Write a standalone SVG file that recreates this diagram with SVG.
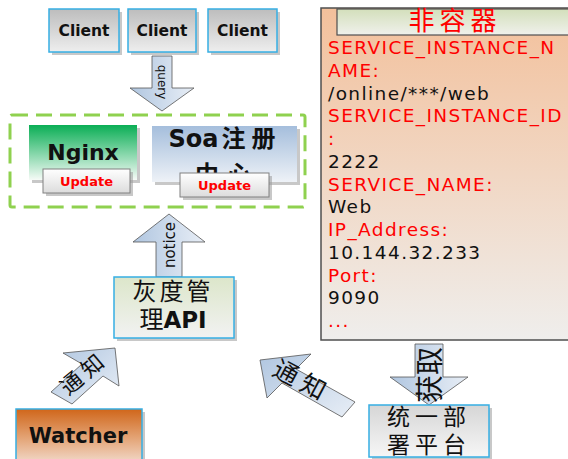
<svg xmlns="http://www.w3.org/2000/svg" width="568" height="459" viewBox="0 0 568 459">
<defs>
<linearGradient id="gClient" x1="0" y1="0" x2="0" y2="1"><stop offset="0" stop-color="#bdbdbd"/><stop offset="1" stop-color="#eeeeee"/></linearGradient>
<linearGradient id="gNginx" x1="0" y1="0" x2="0" y2="1"><stop offset="0" stop-color="#0aae55"/><stop offset="1" stop-color="#f6fbf7"/></linearGradient>
<linearGradient id="gSoa" x1="0" y1="0" x2="0" y2="1"><stop offset="0" stop-color="#a5bedc"/><stop offset="1" stop-color="#eef2f7"/></linearGradient>
<linearGradient id="gUpd" x1="0" y1="0" x2="0" y2="1"><stop offset="0" stop-color="#ffffff"/><stop offset="1" stop-color="#dcdcdc"/></linearGradient>
<linearGradient id="gGray" x1="0" y1="0" x2="0" y2="1"><stop offset="0" stop-color="#dce6ca"/><stop offset="1" stop-color="#f2f2f2"/></linearGradient>
<linearGradient id="gWatch" x1="0" y1="0" x2="0" y2="1"><stop offset="0" stop-color="#d0661a"/><stop offset="0.5" stop-color="#e4a679"/><stop offset="1" stop-color="#f5e6de"/></linearGradient>
<linearGradient id="gDeploy" x1="0" y1="0" x2="0" y2="1"><stop offset="0" stop-color="#d6d6d6"/><stop offset="1" stop-color="#f6f6f6"/></linearGradient>
<linearGradient id="gPanel" x1="0" y1="0" x2="0" y2="1"><stop offset="0" stop-color="#f3c09b"/><stop offset="1" stop-color="#efeeec"/></linearGradient>
<linearGradient id="gTab" x1="0" y1="0" x2="0" y2="1"><stop offset="0" stop-color="#d3dfbb"/><stop offset="1" stop-color="#f0f1ec"/></linearGradient>
<linearGradient id="gArrow" x1="0" y1="0" x2="1" y2="0"><stop offset="0" stop-color="#b0c6e0"/><stop offset="1" stop-color="#e8eef6"/></linearGradient>
<linearGradient id="gArrowD" x1="0" y1="0" x2="1" y2="1"><stop offset="0" stop-color="#b0c6e0"/><stop offset="1" stop-color="#e8eef6"/></linearGradient>
</defs>
<style>
.box{stroke:#36afe4;stroke-width:1.5}
.shadow{fill:#9a9a9a;opacity:0.55}
.lbl{font-family:'DejaVu Sans','Noto Sans CJK SC',sans-serif;font-weight:bold;fill:#111;text-anchor:middle}
.cjk{font-family:'Noto Sans CJK SC','DejaVu Sans',sans-serif;fill:#111}
.upd{fill:url(#gUpd);stroke:#808080;stroke-width:1}
.updt{font-family:'DejaVu Sans',sans-serif;font-weight:bold;font-size:13px;fill:#ff0000;text-anchor:middle}
.arrow{stroke:#555;stroke-width:0.8}
.pt{font-family:'DejaVu Sans','Noto Sans CJK SC',sans-serif;font-size:18.5px;letter-spacing:1.4px}
.r{fill:#ff0000}
.k{fill:#111}
</style>

<g id="connectors">
<path class="arrow" fill="url(#gArrow)" d="M152,56 H172 V88 H194 L162,111 L130,88 H152 Z"/>
<text font-family="'DejaVu Sans',sans-serif" font-size="12" fill="#111" text-anchor="middle" transform="translate(157.5,82) rotate(90)">query</text>
<path class="arrow" fill="url(#gArrow)" d="M156,277 V242 H133 L169,214 L205,242 H182 V277 Z"/>
<text font-family="'DejaVu Sans',sans-serif" font-size="15" fill="#111" text-anchor="middle" transform="translate(175,245) rotate(-90)">notice</text>
<path class="arrow" fill="url(#gArrow)" d="M415,344 H443 V377 H468 L429,405 L390,377 H415 Z"/>
<text class="cjk" font-size="28" text-anchor="middle" transform="translate(440,375) rotate(-90)">获取</text>
<path class="arrow" fill="url(#gArrowD)" d="M51,392 L82,364 L63,353 L115,348 L119,386 L103,376 L72,404 Z"/>
<text class="cjk" font-size="22" text-anchor="middle" letter-spacing="5" transform="translate(89,379) rotate(-40)">通知</text>
<path class="arrow" fill="url(#gArrowD)" d="M355,402 L296,369 L311,354 L260,360 L267,398 L282,383 L342,417 Z"/>
<text class="cjk" font-size="25" text-anchor="middle" letter-spacing="6" transform="translate(298,389) rotate(28)">通知</text>
</g>

<g id="client1">
<rect class="shadow" x="52" y="12" width="70" height="43"/>
<rect class="box" x="49" y="9" width="70" height="43" fill="url(#gClient)"/>
<text class="lbl" x="84" y="36" font-size="15.5">Client</text>
</g>
<g id="client2">
<rect class="shadow" x="131" y="12" width="68" height="43"/>
<rect class="box" x="128" y="9" width="68" height="43" fill="url(#gClient)"/>
<text class="lbl" x="162" y="36" font-size="15.5">Client</text>
</g>
<g id="client3">
<rect class="shadow" x="211" y="12" width="69" height="43"/>
<rect class="box" x="208" y="9" width="69" height="43" fill="url(#gClient)"/>
<text class="lbl" x="242.5" y="36" font-size="15.5">Client</text>
</g>

<g id="cluster">
<rect x="10" y="115" width="295" height="92" rx="2" fill="none" stroke="#8fd14f" stroke-width="3" stroke-dasharray="16 8"/>
</g>

<g id="nginx">
<rect class="shadow" x="32" y="128" width="108" height="55"/>
<rect x="29" y="125" width="108" height="55" fill="url(#gNginx)"/>
<text class="lbl" x="83" y="160" font-size="22">Nginx</text>
<rect class="shadow" x="46" y="172" width="87" height="24"/>
<rect class="upd" x="43" y="169" width="87" height="24"/>
<text class="updt" x="86.5" y="185.5">Update</text>
</g>

<g id="soa">
<rect class="shadow" x="155" y="129" width="145" height="56"/>
<rect x="152" y="126" width="145" height="56" fill="url(#gSoa)"/>
<text class="lbl" x="222" y="147" font-size="24">Soa<tspan dx="3">注</tspan><tspan dx="6">册</tspan></text>
<text class="lbl" x="223" y="183" font-size="24">中<tspan dx="8">心</tspan></text>
<rect class="shadow" x="183" y="176" width="89" height="24"/>
<rect class="upd" x="180" y="173" width="89" height="24"/>
<text class="updt" x="224.5" y="189.5">Update</text>
</g>

<g id="grayapi">
<rect class="shadow" x="117" y="280" width="120" height="61"/>
<rect class="box" x="114" y="277" width="120" height="61" fill="url(#gGray)"/>
<text class="cjk" x="173" y="300" font-size="24" text-anchor="middle" letter-spacing="3">灰度管</text>
<text x="173" y="328" font-size="24" text-anchor="middle"><tspan class="cjk">理</tspan><tspan font-family="'DejaVu Sans',sans-serif" font-weight="bold" fill="#111" font-size="23">API</tspan></text>
</g>

<g id="watcher">
<rect class="shadow" x="19" y="412" width="126" height="60"/>
<rect class="box" x="16" y="409" width="126" height="60" fill="url(#gWatch)"/>
<text class="lbl" x="78" y="443" font-size="21">Watcher</text>
</g>

<g id="deploy">
<rect class="shadow" x="372" y="408" width="120" height="52"/>
<rect class="box" x="369" y="405" width="120" height="52" fill="url(#gDeploy)"/>
<text class="cjk" x="429" y="425" font-size="23" text-anchor="middle" letter-spacing="5">统一部</text>
<text class="cjk" x="429" y="453" font-size="23" text-anchor="middle" letter-spacing="5">署平台</text>
</g>

<g id="noncontainer">
<rect x="321" y="8" width="260" height="332" fill="url(#gPanel)" stroke="#4f4f4f" stroke-width="1.5"/>
<rect x="337" y="9" width="240" height="26" fill="url(#gTab)" stroke="#4f4f4f" stroke-width="1.2"/>
<text class="cjk" x="455" y="30" font-size="26" style="fill:#ff0000" text-anchor="middle" letter-spacing="5">非容器</text>
<text class="pt r" x="328" y="54">SERVICE_INSTANCE_N</text>
<text class="pt r" x="328" y="77">AME:</text>
<text class="pt k" x="328" y="99.5">/online/***/web</text>
<text class="pt r" x="328" y="122">SERVICE_INSTANCE_ID</text>
<text class="pt r" x="328" y="145">:</text>
<text class="pt k" x="328" y="168">2222</text>
<text class="pt r" x="328" y="190.5">SERVICE_NAME:</text>
<text class="pt k" x="328" y="213">Web</text>
<text class="pt r" x="328" y="236">IP_Address:</text>
<text class="pt k" x="328" y="258.5">10.144.32.233</text>
<text class="pt r" x="328" y="281.5">Port:</text>
<text class="pt k" x="328" y="304">9090</text>
<text class="pt r" x="328" y="327">...</text>
</g>
</svg>
